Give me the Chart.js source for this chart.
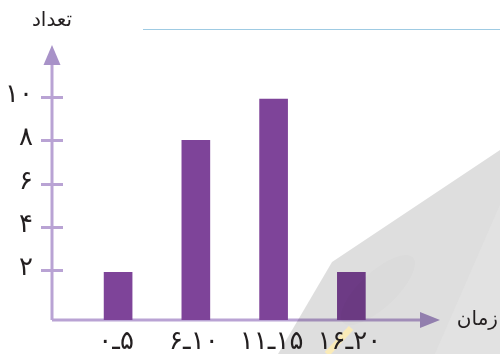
<!DOCTYPE html>
<html lang="fa">
<head>
<meta charset="utf-8">
<script src="https://cdn.jsdelivr.net/npm/chart.js@4.4.1/dist/chart.umd.min.js"></script>
<style>
  html, body { margin: 0; padding: 0; background: #fff; }
  #wrap { width: 500px; height: 354px; }
</style>
</head>
<body>
<div id="wrap"><canvas id="timeChart"></canvas></div>
<script>
// data
const categories = ["۰ـ۵", "۶ـ۱۰", "۱۱ـ۱۵", "۱۶ـ۲۰"];
const counts = [1.9, 8, 9.9, 1.9];
const yTicks = [2, 4, 6, 8, 10];
const yTickLabels = ["۲", "۴", "۶", "۸", "۱۰"];
const yTitle = "تعداد";
const xTitle = "زمان";

const FONT = "'DejaVu Sans', sans-serif";
const AXIS = "#b9a3d4";
const ARROW = "#a892c8";
const BAR = "#7e4499";

// axes with arrows, cross ticks and persian labels
const axesPlugin = {
  id: "axesArrows",
  beforeDatasetsDraw(chart) {
    const { ctx, chartArea: a, scales } = chart;
    const y = scales.y;
    ctx.save();

    // top decorative rule
    ctx.strokeStyle = "#9fcbe3";
    ctx.lineWidth = 1;
    ctx.beginPath();
    ctx.moveTo(143, 29.5);
    ctx.lineTo(500, 29.5);
    ctx.stroke();

    ctx.strokeStyle = AXIS;
    ctx.lineWidth = 3;
    ctx.beginPath();
    ctx.moveTo(a.left, a.bottom);
    ctx.lineTo(a.left, a.top + 20);
    ctx.moveTo(a.left, a.bottom);
    ctx.lineTo(a.right - 20, a.bottom);
    ctx.stroke();

    ctx.fillStyle = ARROW;
    ctx.beginPath();
    ctx.moveTo(a.left, a.top);
    ctx.lineTo(a.left - 8.5, a.top + 20);
    ctx.lineTo(a.left + 8.5, a.top + 20);
    ctx.closePath();
    ctx.fill();
    ctx.beginPath();
    ctx.moveTo(a.right, a.bottom);
    ctx.lineTo(a.right - 20, a.bottom - 8);
    ctx.lineTo(a.right - 20, a.bottom + 8);
    ctx.closePath();
    ctx.fill();

    // y ticks crossing the axis
    ctx.font = "26px " + FONT;
    ctx.textAlign = "right";
    ctx.textBaseline = "middle";
    yTicks.forEach((v, i) => {
      const py = Math.round(y.getPixelForValue(v)) + 0.5;
      ctx.strokeStyle = AXIS;
      ctx.lineWidth = 3;
      ctx.beginPath();
      ctx.moveTo(a.left - 11, py);
      ctx.lineTo(a.left + 11, py);
      ctx.stroke();
      ctx.fillStyle = "#231f20";
      ctx.fillText(yTickLabels[i], a.left - 19, py - 2);
    });

    ctx.font = "20px " + FONT;
    ctx.textAlign = "center";
    ctx.fillText(yTitle, a.left, 21);
    ctx.restore();
  },
  afterDraw(chart) {
    const { ctx, chartArea: a, scales } = chart;
    const x = scales.x;
    ctx.save();

    // faint grey page watermark laid over the chart
    ctx.fillStyle = "rgba(0,0,0,0.13)";
    ctx.beginPath();
    ctx.moveTo(332, 262);
    ctx.lineTo(500, 150);
    ctx.lineTo(500, 354);
    ctx.lineTo(278, 354);
    ctx.closePath();
    ctx.fill();

    ctx.fillStyle = "rgba(0,0,0,0.015)";
    ctx.beginPath();
    ctx.ellipse(378, 290, 48, 18, -0.75, 0, Math.PI * 2);
    ctx.fill();

    ctx.fillStyle = "rgba(255,255,255,0.12)";
    ctx.beginPath();
    ctx.moveTo(500, 205);
    ctx.lineTo(500, 354);
    ctx.lineTo(435, 354);
    ctx.closePath();
    ctx.fill();

    ctx.strokeStyle = "rgba(253,236,180,0.9)";
    ctx.lineWidth = 6;
    ctx.beginPath();
    ctx.moveTo(351, 328);
    ctx.lineTo(327, 354);
    ctx.stroke();

    // x category labels (forced LTR so the range reads as in the book)
    ctx.fillStyle = "#231f20";
    ctx.font = "26px " + FONT;
    ctx.textAlign = "center";
    ctx.textBaseline = "middle";
    categories.forEach((c, i) => {
      const px = x.getPixelForValue(i + 1);
      ctx.fillText("\u202D" + c + "\u202C", px - 2, a.bottom + 22);
    });

    ctx.font = "20px " + FONT;
    ctx.textAlign = "right";
    ctx.fillText(xTitle, 498, a.bottom);
    ctx.restore();
  }
};

new Chart(document.getElementById("timeChart"), {
  type: "bar",
  data: {
    datasets: [{
      data: counts.map((v, i) => ({ x: i + 1, y: v })),
      base: -0.3,
      backgroundColor: BAR,
      borderWidth: 0,
      barThickness: 28
    }]
  },
  options: {
    responsive: true,
    maintainAspectRatio: false,
    animation: false,
    layout: { padding: { left: 52, top: 45, right: 60, bottom: 34 } },
    plugins: { legend: { display: false }, tooltip: { enabled: false } },
    scales: {
      x: { type: "linear", min: 0.15, max: 5.14, offset: false, display: false },
      y: { type: "linear", min: -0.3, max: 12.4, display: false }
    }
  },
  plugins: [axesPlugin]
});
</script>
</body>
</html>
